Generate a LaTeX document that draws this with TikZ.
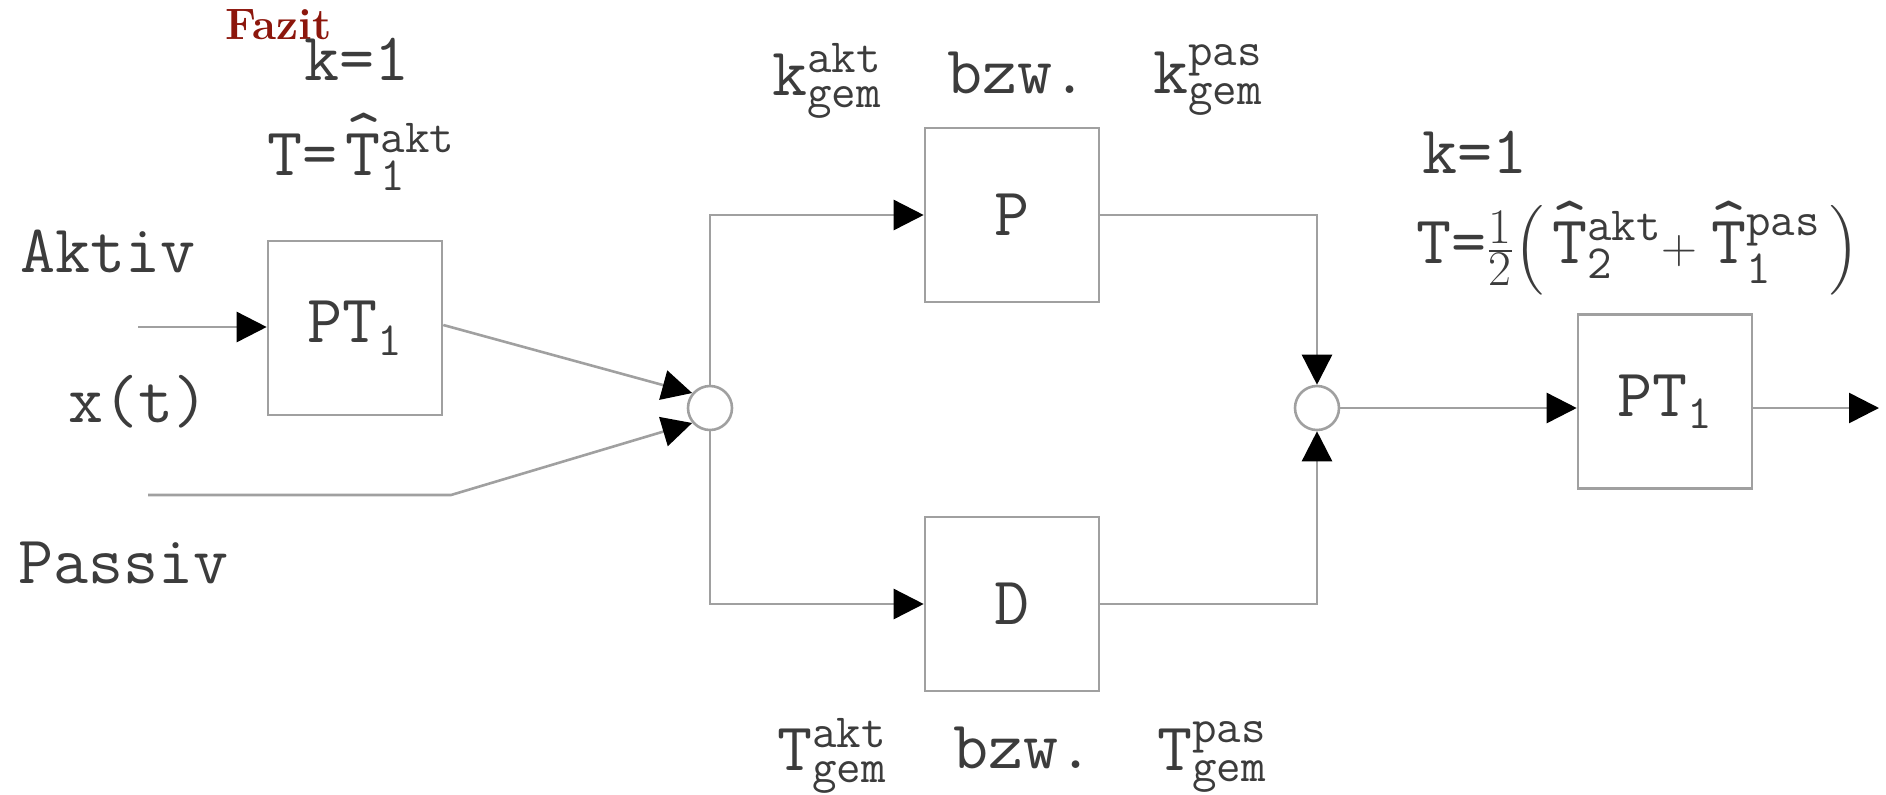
\documentclass[tikz,border=0pt]{standalone}
\usepackage{amsmath}
\usepackage[no-math]{fontspec}
\usetikzlibrary{arrows.meta}
\definecolor{linegray}{RGB}{160,160,160}
\definecolor{txt}{RGB}{60,60,60}
\definecolor{fazitred}{RGB}{140,22,12}
\newcommand{\hatT}{\text{\makebox[0pt][l]{\smash{\makebox[0.525em]{\raisebox{0.28em}{\textasciicircum}}}}T}}
\tikzset{
  lbl/.style={anchor=base west, inner sep=0pt, text=txt, font=\fontsize{34}{40}\selectfont\ttfamily},
  blk/.style={draw=linegray, line width=1.3pt, minimum width=87pt, minimum height=87pt, inner sep=0pt, text=txt, font=\fontsize{34}{40}\selectfont\ttfamily},
  sumpt/.style={circle, draw=linegray, fill=white, line width=1.3pt, minimum size=22pt, inner sep=0pt},
  wire/.style={draw=linegray, line width=1.3pt},
  arr/.style={wire, -{Triangle[length=15pt,width=15pt,color=black]}}
}
\begin{document}
\begin{tikzpicture}[x=0.5pt,y=-0.5pt]
\useasboundingbox (0,0) rectangle (1886,794);
% title
\node[anchor=base west, inner sep=0pt, text=fazitred, font=\fontsize{22}{26}\selectfont\bfseries] (fazit) at (225,39) {Fazit};
% blocks
\node[blk] (b1) at (355,328) {$\text{PT}_{\text{1}}$};
\node[blk] (bP) at (1012,215) {P};
\node[blk] (bD) at (1012,604) {D};
\node[blk] (b2) at (1665,401.5) {$\text{PT}_{\text{1}}$};
\node[sumpt] (c1) at (710,408) {};
\node[sumpt] (c2) at (1317,408) {};
% free ends
\coordinate (in) at (138,327);
\coordinate (pin) at (148,495);
\coordinate (pk) at (451,495);
\coordinate (out) at (1879,408);
% labels
\node[lbl] (k1) at (304,80) {k=1};
\node[lbl] (t1) at (267,175) {$\text{T=}\,\hatT^{\text{akt}}_{\text{1}}$};
\node[lbl] (aktiv) at (20,272) {Aktiv};
\node[lbl] (xt) at (68,422) {x(t)};
\node[lbl] (passiv) at (18,583) {Passiv};
\node[lbl] (kakt) at (772,95) {$\text{k}^{\text{akt}}_{\text{gem}}$};
\node[lbl] (bzw1) at (947,93) {bzw.};
\node[lbl] (kpas) at (1153,93) {$\text{k}^{\text{pas}}_{\text{gem}}$};
\node[lbl] (k2) at (1422,173) {k=1};
\node[lbl] (t2) at (1416,263) {$\text{T=}\tfrac{1}{2}\Bigl(\,\hatT^{\text{akt}}_{\text{2}}{+}\;\hatT^{\text{pas}}_{\text{1}}\,\Bigr)$};
\node[lbl] (takt) at (777,770) {$\text{T}^{\text{akt}}_{\text{gem}}$};
\node[lbl] (bzw2) at (953,768) {bzw.};
\node[lbl] (tpas) at (1157,770) {$\text{T}^{\text{pas}}_{\text{gem}}$};
% connectors
\draw[arr] (in) -- (in -| b1.west);
\draw[arr] (b1.east |- 0,325) -- (c1.140);
\draw[arr] (pin) -- (pk) -- (c1.220);
\draw[arr] (c1.north) |- (bP.west);
\draw[arr] (c1.south) |- (bD.west);
\draw[arr] (bP.east) -| (c2.north);
\draw[arr] (bD.east) -| (c2.south);
\draw[arr] (c2.east) -- (c2.east -| b2.west);
\draw[arr] (b2.east |- c2) -- (out);
\end{tikzpicture}
\end{document}
